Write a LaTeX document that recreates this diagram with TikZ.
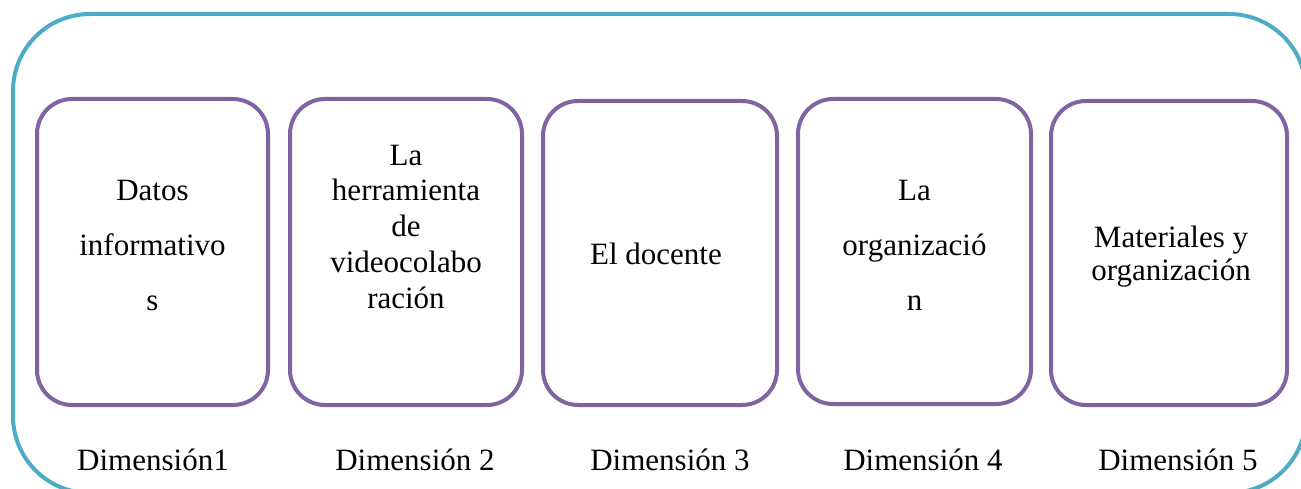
\documentclass[tikz,border=0pt]{standalone}
\usepackage{fontspec}
\setmainfont{Liberation Serif}
\definecolor{outerc}{HTML}{4BACC6}
\definecolor{boxc}{HTML}{8064A2}
\begin{document}
\begin{tikzpicture}[x=1pt,y=-1pt,
  dimbox/.style={draw=boxc,line width=4pt,rounded corners=35pt,inner sep=0pt,fill=white},
  boxtext/.style={align=center,inner sep=0pt,anchor=base},
  dimlabel/.style={inner sep=0pt,anchor=base,font=\fontsize{31}{36}\selectfont}]
\useasboundingbox (0,0) rectangle (1301,489);
\clip (0,0) rectangle (1301,489);
\draw[outerc,line width=4pt,rounded corners=77pt] (13,14) rectangle (1306,493);
\node[dimbox,minimum width=231pt,minimum height=306pt] (b1) at (152.5,252) {};
\node[dimbox,minimum width=232pt,minimum height=306pt] (b2) at (406,252) {};
\node[dimbox,minimum width=234pt,minimum height=304pt] (b3) at (660,253) {};
\node[dimbox,minimum width=233pt,minimum height=305pt] (b4) at (914.5,251.5) {};
\node[dimbox,minimum width=236pt,minimum height=304pt] (b5) at (1169,253) {};
\node[boxtext,font=\fontsize{31}{55}\selectfont] (t1) at (152.5,310) {Datos\\informativo\\s};
\node[boxtext,font=\fontsize{31}{35.75}\selectfont] (t2) at (406,308) {La\\herramienta\\de\\videocolabo\\ración};
\node[boxtext,font=\fontsize{31}{36}\selectfont] (t3) at (656,265) {El docente};
\node[boxtext,font=\fontsize{31}{55}\selectfont] (t4) at (914.5,310) {La\\organizació\\n};
\node[boxtext,font=\fontsize{31}{33}\selectfont] (t5) at (1171,280) {Materiales y\\organización};
\node[dimlabel] (d1) at (153,470) {Dimensión1};
\node[dimlabel] (d2) at (415,470) {Dimensión 2};
\node[dimlabel] (d3) at (670,470) {Dimensión 3};
\node[dimlabel] (d4) at (923,470) {Dimensión 4};
\node[dimlabel] (d5) at (1178,470) {Dimensión 5};
\end{tikzpicture}
\end{document}
